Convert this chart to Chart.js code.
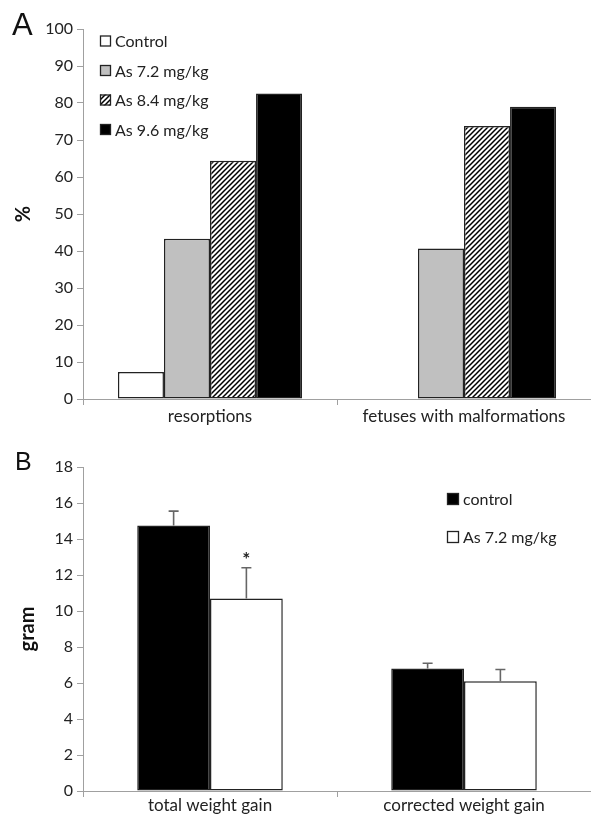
<!DOCTYPE html>
<html>
<head>
<meta charset="utf-8">
<script src="https://cdn.jsdelivr.net/npm/chart.js@4.4.1/dist/chart.umd.min.js"></script>
<style>
  html, body { margin: 0; padding: 0; background: #fff; }
  #wrap { position: relative; width: 591px; height: 816px; overflow: hidden; }
  canvas { position: absolute; left: 0; }
  #cA { top: 0; }
  #cB { top: 424px; }
  .panel { position: absolute; font-family: "Liberation Sans", Arial, sans-serif; color: #111; line-height: 1; }
</style>
</head>
<body>
<div id="wrap">
  <canvas id="cA" width="591" height="432"></canvas>
  <canvas id="cB" width="591" height="392"></canvas>
  <div class="panel" style="left:12px; top:9px; font-size:31px;">A</div>
  <div class="panel" style="left:15px; top:449px; font-size:25px;">B</div>
</div>
<script>
// ---------- DATA ----------
const categoriesA = ["resorptions", "fetuses with malformations"];
const seriesNamesA = ["Control", "As 7.2 mg/kg", "As 8.4 mg/kg", "As 9.6 mg/kg"];
const controlA = [7.3, 0];
const as72A = [43.3, 40.7];
const as84A = [64.4, 73.8];
const as96A = [82.6, 79.0];
const yTicksA = [0, 10, 20, 30, 40, 50, 60, 70, 80, 90, 100];

const categoriesB = ["total weight gain", "corrected weight gain"];
const seriesNamesB = ["control", "As 7.2 mg/kg"];
const controlB = [14.75, 6.8];
const controlErrB = [0.8, 0.3];
const as72B = [10.7, 6.1];
const as72ErrB = [1.7, 0.65];
const starsB = [[false, false], [true, false]]; // per dataset, per category
const yTicksB = [0, 2, 4, 6, 8, 10, 12, 14, 16, 18];

// ---------- STYLE HELPERS ----------
const FONT = "Lato, 'Open Sans', sans-serif";
const TXT = "#222";
const AXIS = "#a0a0a0";

function makeHatch() {
  const s = 5;
  const c = document.createElement('canvas');
  c.width = s; c.height = s;
  const g = c.getContext('2d');
  g.fillStyle = '#fff';
  g.fillRect(0, 0, s, s);
  g.strokeStyle = '#000';
  g.lineWidth = 1.5;
  g.beginPath();
  g.moveTo(-1, s + 1); g.lineTo(s + 1, -1);
  g.moveTo(-1, 1); g.lineTo(1, -1);
  g.moveTo(s - 1, s + 1); g.lineTo(s + 1, s - 1);
  g.stroke();
  return document.getElementById('cA').getContext('2d').createPattern(c, 'repeat');
}
const hatch = makeHatch();

function fixedScales(yTicks, yTitle, titlePad, xHeight, xPad) {
  return {
    x: {
      offset: true,
      grid: { display: true, offset: true, drawOnChartArea: false, drawTicks: true, tickLength: 6, color: AXIS, lineWidth: 1 },
      border: { display: true, color: AXIS, width: 1 },
      ticks: { color: TXT, font: { family: FONT, size: 17 }, padding: xPad, maxRotation: 0, autoSkip: false },
      afterFit: (s) => { s.height = xHeight; }
    },
    y: {
      min: yTicks[0], max: yTicks[yTicks.length - 1],
      afterBuildTicks: (s) => { s.ticks = yTicks.map(v => ({ value: v })); },
      grid: { display: true, drawOnChartArea: false, drawTicks: true, tickLength: 6, color: AXIS, lineWidth: 1 },
      border: { display: true, color: AXIS, width: 1 },
      ticks: { color: TXT, font: { family: FONT, size: 16 }, padding: 4 },
      title: { display: true, text: yTitle, color: "#111", font: { family: FONT, size: 20, weight: 'bold' }, padding: { top: titlePad, bottom: 0 } },
      afterFit: (s) => { s.width = 83; }
    }
  };
}

// custom in-plot legend
const inLegend = {
  id: 'inLegend',
  afterDraw(chart, args, opts) {
    const ctx = chart.ctx;
    ctx.save();
    ctx.font = `16px ${FONT}`;
    ctx.textBaseline = 'middle';
    chart.data.datasets.forEach((ds, i) => {
      const y = opts.y0 + i * opts.dy;
      const x = opts.x;
      const b = opts.box;
      ctx.fillStyle = ds.backgroundColor;
      ctx.fillRect(x, y - b / 2, b, b);
      ctx.lineWidth = 1.3;
      ctx.strokeStyle = '#222';
      ctx.strokeRect(x + 0.5, y - b / 2 + 0.5, b - 1, b - 1);
      ctx.fillStyle = TXT;
      ctx.fillText(ds.label, x + b + 4, y + 1);
    });
    ctx.restore();
  }
};

// one-sided error bars + significance stars
const errBars = {
  id: 'errBars',
  afterDatasetsDraw(chart) {
    const ctx = chart.ctx;
    const yS = chart.scales.y;
    ctx.save();
    chart.data.datasets.forEach((ds, i) => {
      if (!ds.errors) return;
      const meta = chart.getDatasetMeta(i);
      meta.data.forEach((bar, j) => {
        const v = ds.data[j], e = ds.errors[j];
        const yTop = yS.getPixelForValue(v + e);
        ctx.strokeStyle = '#666';
        ctx.lineWidth = 1.6;
        ctx.beginPath();
        ctx.moveTo(bar.x, bar.y);
        ctx.lineTo(bar.x, yTop);
        ctx.moveTo(bar.x - 5, yTop);
        ctx.lineTo(bar.x + 5, yTop);
        ctx.stroke();
        if (ds.stars && ds.stars[j]) {
          ctx.fillStyle = '#222';
          ctx.font = `bold 19px ${FONT}`;
          ctx.textAlign = 'center';
          ctx.textBaseline = 'middle';
          ctx.fillText('*', bar.x, yTop - 8);
        }
      });
    });
    ctx.restore();
  }
};

const common = {
  responsive: false,
  animation: false,
  devicePixelRatio: 1,
  plugins: { legend: { display: false }, tooltip: { enabled: false } }
};

// ---------- CHART A ----------
new Chart(document.getElementById('cA'), {
  type: 'bar',
  data: {
    labels: categoriesA,
    datasets: [
      { label: seriesNamesA[0], data: controlA, backgroundColor: '#ffffff' },
      { label: seriesNamesA[1], data: as72A, backgroundColor: '#c0c0c0' },
      { label: seriesNamesA[2], data: as84A, backgroundColor: hatch },
      { label: seriesNamesA[3], data: as96A, backgroundColor: '#000000' }
    ].map(d => Object.assign(d, {
      borderColor: '#222',
      borderWidth: (c) => (c.raw === 0 ? 0 : 1.5),
      borderSkipped: false,
      categoryPercentage: 0.725,
      barPercentage: 1.0
    }))
  },
  options: Object.assign({}, common, {
    layout: { padding: { top: 29, right: 0, left: 0, bottom: 0 } },
    scales: fixedScales(yTicksA, '%', 12, 33, 1),
    plugins: Object.assign({}, common.plugins, {
      inLegend: { x: 100, y0: 41, dy: 29.5, box: 11 }
    })
  }),
  plugins: [inLegend]
});

// ---------- CHART B ----------
new Chart(document.getElementById('cB'), {
  type: 'bar',
  data: {
    labels: categoriesB,
    datasets: [
      { label: seriesNamesB[0], data: controlB, errors: controlErrB, stars: starsB[0], backgroundColor: '#000000' },
      { label: seriesNamesB[1], data: as72B, errors: as72ErrB, stars: starsB[1], backgroundColor: '#ffffff' }
    ].map(d => Object.assign(d, {
      borderColor: '#222',
      borderWidth: 1.5,
      borderSkipped: false,
      categoryPercentage: 0.573,
      barPercentage: 1.0
    }))
  },
  options: Object.assign({}, common, {
    layout: { padding: { top: 43, right: 0, left: 0, bottom: 0 } },
    scales: fixedScales(yTicksB, 'gram', 16, 25, -2),
    plugins: Object.assign({}, common.plugins, {
      inLegend: { x: 447, y0: 75, dy: 38, box: 12 }
    })
  }),
  plugins: [inLegend, errBars]
});
</script>
</body>
</html>
